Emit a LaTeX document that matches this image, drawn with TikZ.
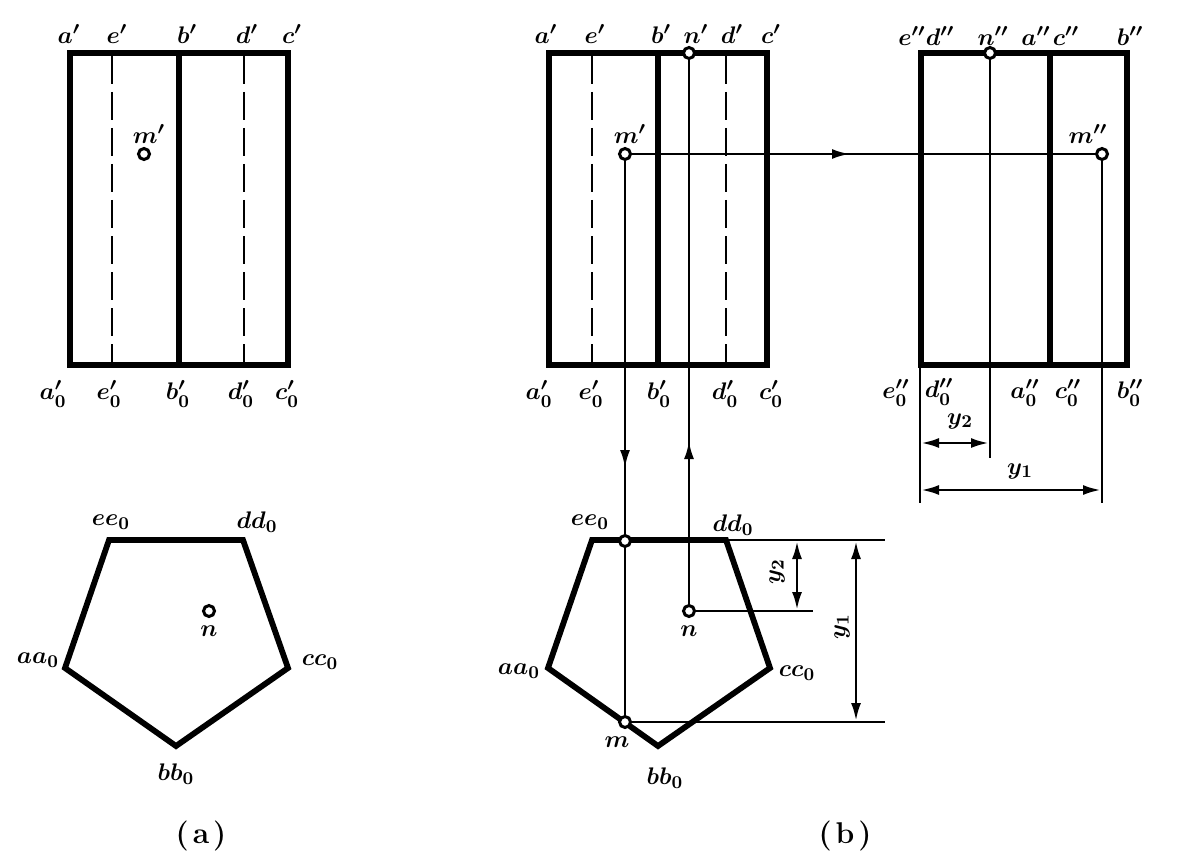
\documentclass[tikz,border=0pt]{standalone}
\usepackage{amsmath}
\usetikzlibrary{arrows.meta}

\tikzset{
  arrtip/.tip={Latex[length=9pt,width=5pt]},
  outline/.style={line width=2.9pt,line join=miter},
  thinline/.style={line width=1.4pt},
  hidden/.style={line width=1.3pt,dash pattern=on 14pt off 4pt},
  dimline/.style={line width=1.4pt,arrtip-arrtip},
  dot/.style={circle,draw,fill=white,line width=1.5pt,inner sep=0pt,minimum size=5.5pt},
  lab/.style={inner sep=0pt,font=\fontsize{13.2}{14}\selectfont\boldmath},
  figcap/.style={inner sep=0pt,font=\fontsize{15}{15}\selectfont\bfseries}
}

\begin{document}
\begin{tikzpicture}[x=0.5pt,y=-0.5pt]
  \useasboundingbox (0,0) rectangle (1181,861);
  % (a) front view
  \draw[outline] (70,53) rectangle (288,365);
  \coordinate (ba1) at (179,53);
  \coordinate (ba2) at (179,365);
  \draw[outline] (ba1) -- (ba2);
  \coordinate (ea1) at (112,56);
  \coordinate (ea2) at (112,362);
  \coordinate (da1) at (244,56);
  \coordinate (da2) at (244,362);
  \draw[hidden] (ea1) -- (ea2);
  \draw[hidden] (da1) -- (da2);
  \node[dot] (ma) at (144,154) {};
  \node[lab] (lma) at (149,134) {$m'$};
  \node[lab] (la1) at (69,34) {$a'$};
  \node[lab] (le1) at (117,34) {$e'$};
  \node[lab] (lb1) at (187,34) {$b'$};
  \node[lab] (ld1) at (247,34) {$d'$};
  \node[lab] (lc1) at (292,34) {$c'$};
  \node[lab] (la0) at (53,394) {$a'_0$};
  \node[lab] (le0) at (109,394) {$e'_0$};
  \node[lab] (lb0) at (178,394) {$b'_0$};
  \node[lab] (ld0) at (241,394) {$d'_0$};
  \node[lab] (lc0) at (287,394) {$c'_0$};
  % (a) top view
  \coordinate (pa) at (65,668);
  \coordinate (pe) at (109,540);
  \coordinate (pd) at (243,540);
  \coordinate (pc) at (288,668);
  \coordinate (pb) at (176,746);
  \draw[outline] (pa) -- (pe) -- (pd) -- (pc) -- (pb) -- cycle;
  \node[dot] (na) at (209,611) {};
  \node[lab] (lna) at (209,631) {$n$};
  \node[lab] (lpe) at (111,522) {$ee_0$};
  \node[lab] (lpd) at (257,522) {$dd_0$};
  \node[lab] (lpa) at (38,660) {$aa_0$};
  \node[lab] (lpc) at (320,662) {$cc_0$};
  \node[lab] (lpb) at (176,774) {$bb_0$};
  \node[figcap] (capa) at (201,836) {(\hspace{2pt}a\hspace{2pt})};
  % (b) front view
  \draw[outline] (549,53) rectangle (767,365);
  \coordinate (bb1) at (658,53);
  \coordinate (bb2) at (658,365);
  \draw[outline] (bb1) -- (bb2);
  \coordinate (eb1) at (592,56);
  \coordinate (eb2) at (592,362);
  \coordinate (db1) at (726,56);
  \coordinate (db2) at (726,362);
  \draw[hidden] (eb1) -- (eb2);
  \draw[hidden] (db1) -- (db2);
  % (b) side view
  \draw[outline] (921,53) rectangle (1127,365);
  \coordinate (ac1) at (1050,53);
  \coordinate (ac2) at (1050,365);
  \draw[outline] (ac1) -- (ac2);
  % (b) top view
  \coordinate (qa) at (548,668);
  \coordinate (qe) at (592,540);
  \coordinate (qd) at (726,540);
  \coordinate (qc) at (770,668);
  \coordinate (qb) at (658,746);
  \draw[outline] (qa) -- (qe) -- (qd) -- (qc) -- (qb) -- cycle;
  % points
  \node[dot] (mf) at (625,154) {};
  \node[dot] (ms) at (1102,154) {};
  \node[dot] (nf) at (689,53) {};
  \node[dot] (ns) at (990,53) {};
  \node[dot] (nt) at (689,611) {};
  \node[dot] (et) at (625,541) {};
  \node[dot] (mt) at (625,722) {};
  % projection lines
  \coordinate (arrh) at (850,154);
  \coordinate (arrd) at (625,468);
  \coordinate (arru) at (689,441);
  \draw[thinline] (mf) -- (ms);
  \draw[thinline,-arrtip] (mf) -- (arrh);
  \draw[thinline] (mf) -- (et);
  \draw[thinline,-arrtip] (mf) -- (arrd);
  \draw[thinline] (et) -- (mt);
  \draw[thinline] (nt) -- (nf);
  \draw[thinline,-arrtip] (nt) -- (arru);
  % dimensions side view
  \coordinate (ey1) at (920,365);
  \coordinate (ey2) at (920,503);
  \coordinate (ny2) at (990,458);
  \coordinate (my2) at (1102,503);
  \draw[thinline] (ey1) -- (ey2);
  \draw[thinline] (ns) -- (ny2);
  \draw[thinline] (ms) -- (my2);
  \coordinate (d2l) at (921,443);
  \coordinate (d2r) at (989,443);
  \coordinate (d1l) at (921,490);
  \coordinate (d1r) at (1101,490);
  \draw[dimline] (d2l) -- (d2r);
  \draw[dimline] (d1l) -- (d1r);
  \node[lab] (ly2s) at (960,421) {$y_2$};
  \node[lab] (ly1s) at (1020,471) {$y_1$};
  % dimensions top view
  \coordinate (ext1) at (885,540);
  \coordinate (ext2) at (813,611);
  \coordinate (ext3) at (885,722);
  \draw[thinline] (qd) -- (ext1);
  \draw[thinline] (nt) -- (ext2);
  \draw[thinline] (mt) -- (ext3);
  \coordinate (d3t) at (797,541);
  \coordinate (d3b) at (797,610);
  \coordinate (d4t) at (856,541);
  \coordinate (d4b) at (856,721);
  \draw[dimline] (d3t) -- (d3b);
  \draw[dimline] (d4t) -- (d4b);
  \node[lab,rotate=90] (ly2t) at (777,572) {$y_2$};
  \node[lab,rotate=90] (ly1t) at (842,627) {$y_1$};
  % labels (b)
  \node[lab] (lmf) at (630,134) {$m'$};
  \node[lab] (lms) at (1088,134) {$m''$};
  \node[lab] (a1) at (546,34) {$a'$};
  \node[lab] (e1) at (595,34) {$e'$};
  \node[lab] (b1) at (661,34) {$b'$};
  \node[lab] (n1) at (696,34) {$n'$};
  \node[lab] (d1) at (732,34) {$d'$};
  \node[lab] (c1) at (771,34) {$c'$};
  \node[lab] (a0) at (539,394) {$a'_0$};
  \node[lab] (e0) at (591,394) {$e'_0$};
  \node[lab] (b0) at (659,394) {$b'_0$};
  \node[lab] (d0) at (725,394) {$d'_0$};
  \node[lab] (c0) at (771,394) {$c'_0$};
  \node[lab] (e2) at (912,36) {$e''$};
  \node[lab] (d2) at (940,36) {$d''$};
  \node[lab] (n2) at (993,36) {$n''$};
  \node[lab] (a2) at (1036,36) {$a''$};
  \node[lab] (c2) at (1066,36) {$c''$};
  \node[lab] (b2) at (1130,36) {$b''$};
  \node[lab] (e20) at (896,393) {$e''_0$};
  \node[lab] (d20) at (939,392) {$d''_0$};
  \node[lab] (a20) at (1025,393) {$a''_0$};
  \node[lab] (c20) at (1068,393) {$c''_0$};
  \node[lab] (b20) at (1130,393) {$b''_0$};
  \node[lab] (qle) at (590,522) {$ee_0$};
  \node[lab] (qld) at (733,525) {$dd_0$};
  \node[lab] (qla) at (519,671) {$aa_0$};
  \node[lab] (qlc) at (797,673) {$cc_0$};
  \node[lab] (qlb) at (665,778) {$bb_0$};
  \node[lab] (qlm) at (617,742) {$m$};
  \node[lab] (qln) at (689,631) {$n$};
  \node[figcap] (capb) at (845,836) {(\hspace{2pt}b\hspace{2pt})};
\end{tikzpicture}
\end{document}
